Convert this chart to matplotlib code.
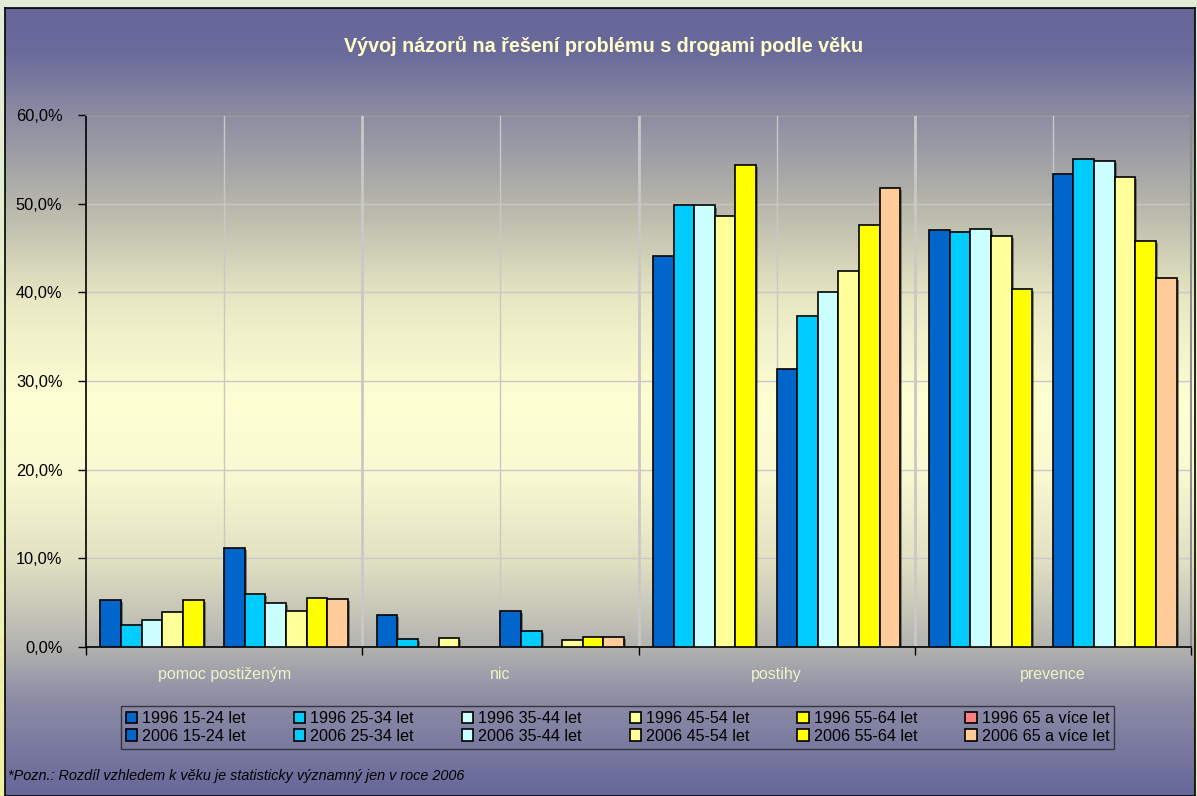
import numpy as np
import matplotlib
matplotlib.use("Agg")
import matplotlib.pyplot as plt
import matplotlib.patheffects as pe
from matplotlib.colors import LinearSegmentedColormap
from matplotlib.ticker import FuncFormatter, FixedLocator

W, H = 1197, 796

categories = ["pomoc postiženým", "nic", "postihy", "prevence"]
series_names = [
    "1996 15-24 let", "1996 25-34 let", "1996 35-44 let", "1996 45-54 let", "1996 55-64 let", "1996 65 a více let",
    "2006 15-24 let", "2006 25-34 let", "2006 35-44 let", "2006 45-54 let", "2006 55-64 let", "2006 65 a více let",
]
# values in percent per category (pomoc, nic, postihy, prevence); 0 = no bar
v1996_15_24 = [5.3, 3.6, 44.1, 47.0]
v1996_25_34 = [2.5, 0.9, 49.8, 46.8]
v1996_35_44 = [3.1, 0.0, 49.8, 47.1]
v1996_45_54 = [3.9, 1.0, 48.6, 46.4]
v1996_55_64 = [5.3, 0.0, 54.4, 40.4]
v1996_65 = [0.0, 0.0, 0.0, 0.0]
v2006_15_24 = [11.2, 4.1, 31.3, 53.4]
v2006_25_34 = [6.0, 1.8, 37.3, 55.0]
v2006_35_44 = [5.0, 0.0, 40.0, 54.8]
v2006_45_54 = [4.1, 0.8, 42.4, 53.0]
v2006_55_64 = [5.5, 1.1, 47.6, 45.8]
v2006_65 = [5.4, 1.1, 51.8, 41.6]
values = [v1996_15_24, v1996_25_34, v1996_35_44, v1996_45_54, v1996_55_64, v1996_65,
          v2006_15_24, v2006_25_34, v2006_35_44, v2006_45_54, v2006_55_64, v2006_65]
colors = ["#0066CC", "#00CCFF", "#CCFFFF", "#FFFF99", "#FFFF00", "#FF8080",
          "#0066CC", "#00CCFF", "#CCFFFF", "#FFFF99", "#FFFF00", "#FFCC99"]
yticks = [0, 10, 20, 30, 40, 50, 60]

plt.rcParams['font.family'] = ['Liberation Sans', 'DejaVu Sans']

fig = plt.figure(figsize=(W / 100, H / 100), dpi=100)

# outer background gradient
outer = fig.add_axes([0, 0, 1, 1], zorder=-3)
og = np.linspace(0, 1, 256)[:, None]
ocmap = LinearSegmentedColormap.from_list("o", ["#E0ECD8", "#E8F0C8", "#F0F0A0"])
outer.imshow(og, aspect='auto', cmap=ocmap, extent=[0, 1, 0, 1], origin='upper')
outer.axis('off')

# chart area gradient
bx0, bx1, by0, by1 = 5, 1195, 8, 796
bg = fig.add_axes([bx0 / W, 1 - by1 / H, (bx1 - bx0) / W, (by1 - by0) / H], zorder=-2)
stops_y = [8, 50, 115, 200, 300, 400, 470, 560, 647, 700, 796]
stops_c = [(102, 102, 154), (106, 106, 155), (140, 140, 162), (180, 180, 170), (232, 232, 196),
           (255, 255, 212), (250, 250, 210), (225, 225, 195), (178, 178, 176), (140, 140, 166), (102, 102, 154)]
ys = np.arange(by0, by1)
grad = np.zeros((len(ys), 1, 3))
for k in range(3):
    grad[:, 0, k] = np.interp(ys, stops_y, [c[k] for c in stops_c]) / 255.0
bg.imshow(grad, aspect='auto', extent=[0, 1, 0, 1], origin='upper')
bg.set_xticks([]); bg.set_yticks([])
for s in bg.spines.values():
    s.set_color('black'); s.set_linewidth(1.2)

# plot area
px0, px1, py0, py1 = 86, 1191, 115, 647
ax = fig.add_axes([px0 / W, 1 - py1 / H, (px1 - px0) / W, (py1 - py0) / H])
ax.set_facecolor('none')
ax.set_xlim(-0.5, len(categories) - 0.5)
ax.set_ylim(0, 60)

nser = len(values)
bw = 0.0746
start = -nser * bw / 2
x = np.arange(len(categories))
handles = []
for j, (vals, col, name) in enumerate(zip(values, colors, series_names)):
    v = np.array(vals, dtype=float)
    v = np.where(v > 0, v, np.nan)
    bars = ax.bar(x + start + (j + 0.5) * bw, v, width=bw, color=col, edgecolor='black',
                  linewidth=1.2, label=name, zorder=3)
    for b in bars:
        b.set_path_effects([pe.SimplePatchShadow(offset=(1.5, -1.5), shadow_rgbFace='#333333', alpha=0.5),
                            pe.Normal()])
    handles.append(bars)

# gridlines
for yv in yticks[1:]:
    ax.axhline(yv, color='#C8C8C8', linewidth=1.0, zorder=1)
for xv in [0.5, 1.5, 2.5]:
    ax.axvline(xv, color='#C8C8C8', linewidth=2.0, zorder=1)
for xv in x:
    ax.axvline(xv, color='#C8C8C8', linewidth=1.0, zorder=1)

ax.yaxis.set_major_locator(FixedLocator(yticks))
ax.yaxis.set_major_formatter(FuncFormatter(lambda v, p: f"{v:.1f}%".replace('.', ',')))
ax.tick_params(axis='y', direction='out', length=6, width=1, pad=11, labelsize=11.8, colors='black')
ax.set_xticks([-0.5, 0.5, 1.5, 2.5, 3.5])
ax.set_xticklabels([])
ax.tick_params(axis='x', direction='out', length=6, width=1)
for i, c in enumerate(categories):
    ax.text(i, -27.5 / ((py1 - py0) / 60), c, ha='center', va='center', fontsize=11.5, color='#F2F2C8')

ax.spines['left'].set_color('black'); ax.spines['left'].set_linewidth(1.2)
ax.spines['bottom'].set_color('black'); ax.spines['bottom'].set_linewidth(1.2)
ax.spines['top'].set_color('#8C8C8C'); ax.spines['top'].set_linewidth(1.2)
ax.spines['right'].set_color('#8C8C8C'); ax.spines['right'].set_linewidth(1.5)

# title
fig.text(604 / W, 1 - 46 / H, "Vývoj názorů na řešení problému s drogami podle věku",
         ha='center', va='center', fontsize=14.2, fontweight='bold', color='#FFFFCC')

# legend: 1996 row on top, 2006 row below
order = []
for k in range(6):
    order += [handles[k], handles[k + 6]]
labels = [h.get_label() for h in order]
leg = fig.legend(order, labels, loc='center', bbox_to_anchor=(617.5 / W, 1 - 727.5 / H), ncol=6,
                 fontsize=11.6, frameon=True, fancybox=False, handlelength=0.7, handleheight=0.7,
                 handletextpad=0.3, columnspacing=3.0, labelspacing=0.15, borderpad=0.3)
leg.get_frame().set_facecolor('none')
leg.get_frame().set_edgecolor('#222222')
leg.get_frame().set_linewidth(1.0)
for h in leg.legend_handles:
    h.set_path_effects([])

fig.text(8 / W, 1 - 776 / H, "*Pozn.: Rozdíl vzhledem k věku je statisticky významný jen v roce 2006",
         ha='left', va='center', fontsize=10.4, style='italic', color='black')

fig.savefig("out.png", dpi=100)
